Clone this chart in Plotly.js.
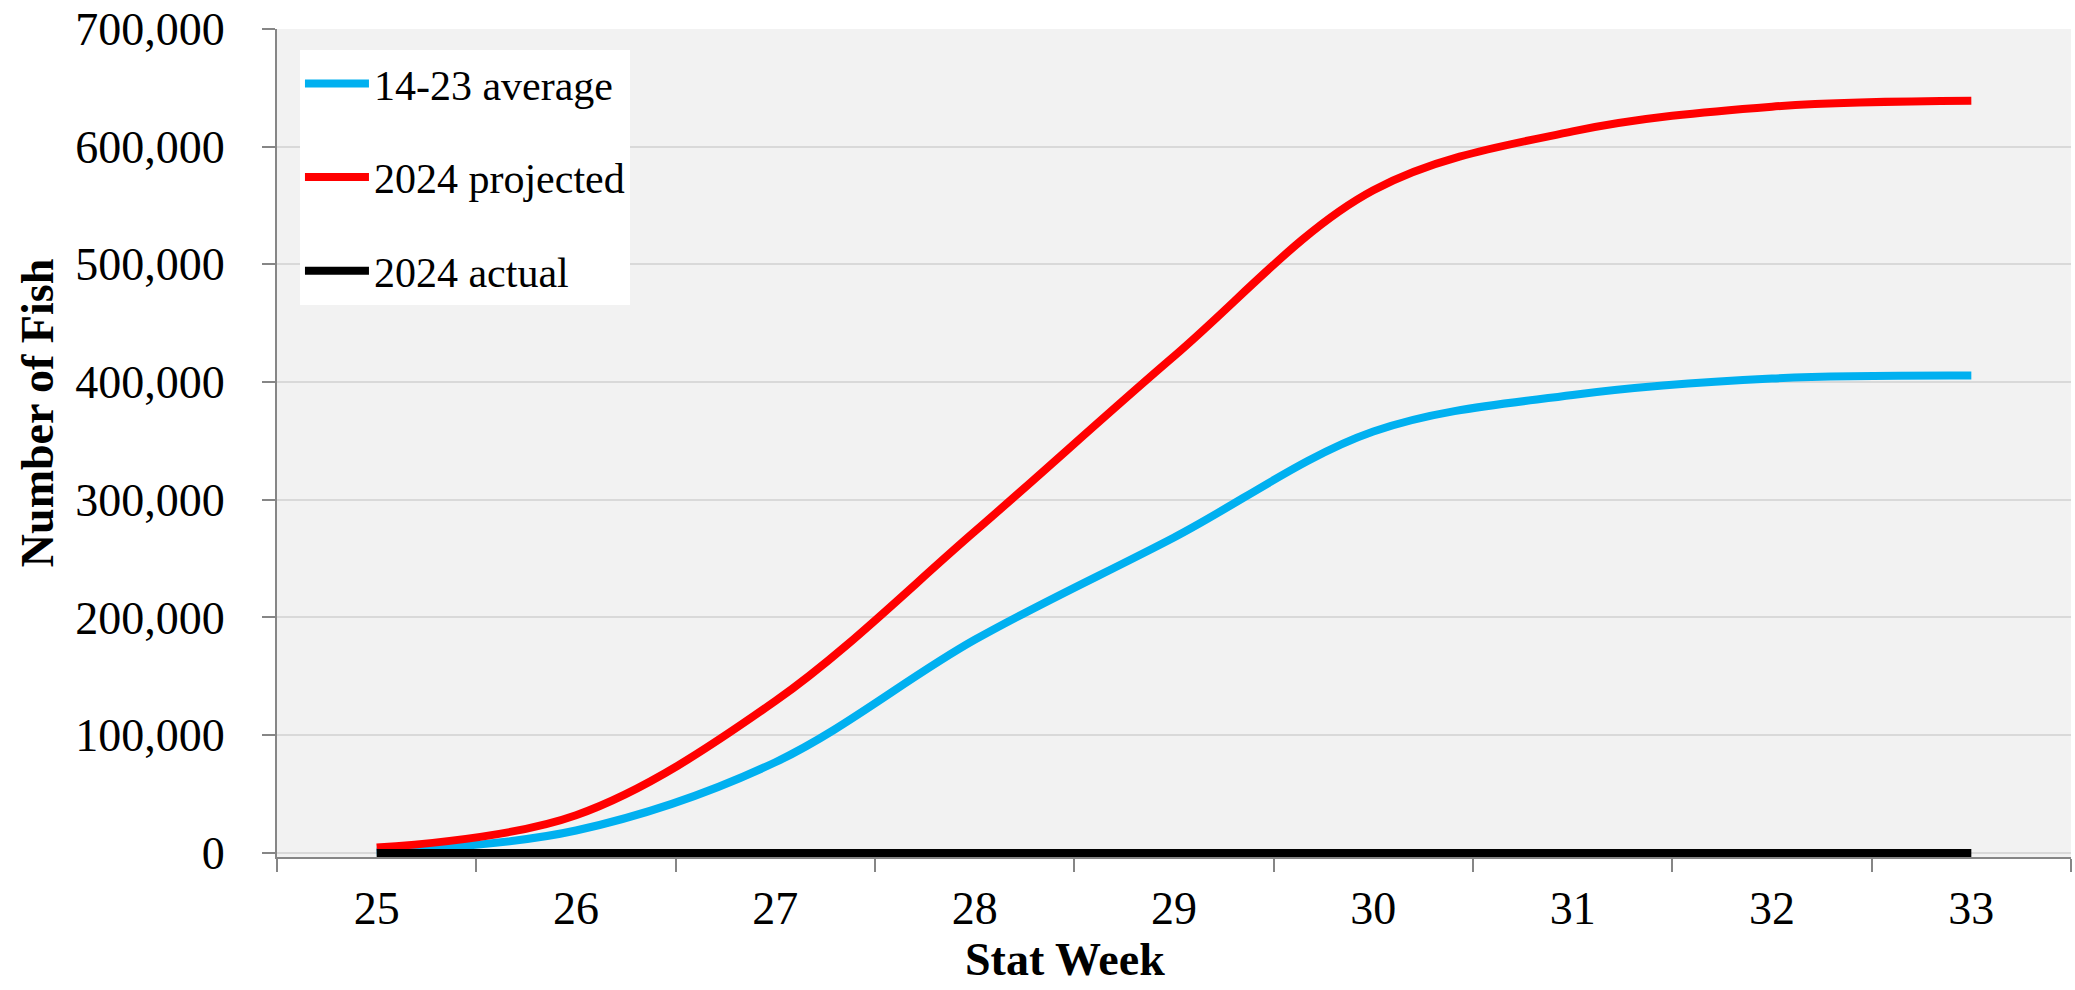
<!DOCTYPE html>
<html>
<head>
<meta charset="utf-8">
<script src="https://cdn.plot.ly/plotly-3.0.1.min.js"></script>
<style>html,body{margin:0;padding:0;background:#fff;}#chart{width:2075px;height:990px;}</style>
</head>
<body>
<div id="chart"></div>
<script>
const weeks = ['25','26','27','28','29','30','31','32','33'];
const average1423 = [1000, 19000, 77000, 181000, 268000, 358000, 389000, 403000, 405500];
const projected2024 = [4500, 32000, 129000, 273000, 422000, 563000, 613000, 634000, 639000];
const actual2024 = [0, 0, 0, 0, 0, 0, 0, 0, 0];
const yTicks = [0, 100000, 200000, 300000, 400000, 500000, 600000, 700000];

const FONT = 'Liberation Serif, Times New Roman, serif';

const traces = [
  {x: weeks, y: average1423, name: '14-23 average', legendgroup: 'a', type: 'scatter', mode: 'lines',
   line: {color: '#00b0f0', width: 8, shape: 'spline', smoothing: 1}, cliponaxis: false},
  {x: weeks, y: projected2024, name: '2024 projected', legendgroup: 'b', type: 'scatter', mode: 'lines',
   line: {color: '#ff0000', width: 8, shape: 'spline', smoothing: 1}, cliponaxis: false},
  {x: weeks, y: actual2024, name: '2024 actual', legendgroup: 'c', type: 'scatter', mode: 'lines',
   line: {color: '#000000', width: 8}, cliponaxis: false}
];

const layout = {
  width: 2075, height: 990,
  margin: {l: 277, r: 4, t: 29, b: 133},
  paper_bgcolor: '#ffffff',
  plot_bgcolor: '#f2f2f2',
  font: {family: FONT, size: 46, color: '#000'},
  showlegend: true,
  legend: {
    x: 0.0128, y: 0.975, xanchor: 'left', yanchor: 'top',
    bgcolor: '#ffffff', borderwidth: 0,
    font: {family: FONT, size: 42, color: '#000'},
    tracegroupgap: 36, itemwidth: 64
  },
  xaxis: {
    type: 'category',
    range: [-0.5, 8.5],
    tickson: 'boundaries',
    ticks: 'outside', ticklen: 13, tickcolor: '#868686', tickwidth: 2,
    showline: true, linecolor: '#868686', linewidth: 2,
    showgrid: false, zeroline: false,
    layer: 'below traces',
    tickfont: {family: FONT, size: 46, color: '#000'},
    ticklabelstandoff: 10
  },
  yaxis: {
    range: [-3500, 700000],
    tickvals: yTicks,
    tickformat: ',d',
    ticks: 'outside', ticklen: 13, tickcolor: '#868686', tickwidth: 2,
    showline: true, linecolor: '#868686', linewidth: 2,
    showgrid: true, gridcolor: '#d9d9d9', gridwidth: 2,
    zeroline: false,
    tickfont: {family: FONT, size: 46, color: '#000'},
    ticklabelstandoff: 28
  },
  annotations: [
    {text: '<b>Stat Week</b>', xref: 'paper', yref: 'paper', x: 0.439, y: -0.124,
     xanchor: 'center', yanchor: 'middle', showarrow: false,
     font: {family: FONT, size: 46, color: '#000'}},
    {text: '<b>Number of Fish</b>', xref: 'paper', yref: 'paper', x: -0.1338, y: 0.536,
     xanchor: 'center', yanchor: 'middle', showarrow: false, textangle: -90,
     font: {family: FONT, size: 46, color: '#000'}}
  ]
};

Plotly.newPlot('chart', traces, layout, {displayModeBar: false, staticPlot: true});
</script>
</body>
</html>
